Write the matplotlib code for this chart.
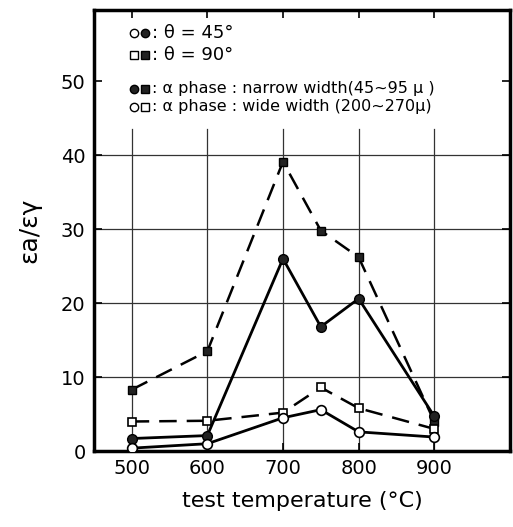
import numpy as np
import matplotlib
matplotlib.use("Agg")
import matplotlib.pyplot as plt

# test temperature (deg C)
temps = [500, 600, 700, 750, 800, 900]

# epsilon_a / epsilon_gamma
narrow_45 = [1.7, 2.1, 26.0, 16.8, 20.6, 4.7]   # filled circles, theta=45
narrow_90 = [8.3, 13.5, 39.1, 29.8, 26.2, 4.0]  # filled squares, theta=90
wide_45 = [0.4, 1.0, 4.5, 5.6, 2.6, 1.9]        # open circles, theta=45
wide_90 = [4.0, 4.1, 5.2, 8.6, 5.8, 3.0]        # open squares, theta=90

xticks = [500, 600, 700, 800, 900]
yticks = [0, 10, 20, 30, 40, 50]

fig = plt.figure(figsize=(5.13, 5.27), dpi=100)
ax = fig.add_axes([0.183, 0.144, 0.811, 0.837])

# grid: horizontal full width, vertical only below legend area
for y in [10, 20, 30, 40]:
    ax.axhline(y, color="#333333", lw=0.9, zorder=0)
for x in xticks:
    ax.plot([x, x], [0, 43.5], color="#333333", lw=0.9, zorder=0)

dash = (0, (7, 4))
ax.plot(temps, narrow_90, color="black", lw=1.8, ls=dash, marker="s", ms=6,
        mfc="#222222", mec="black", zorder=3)
ax.plot(temps, wide_90, color="black", lw=1.8, ls=dash, marker="s", ms=6,
        mfc="white", mec="black", mew=1.2, zorder=3)
ax.plot(temps, narrow_45, color="black", lw=2.0, ls="-", marker="o", ms=7,
        mfc="#222222", mec="black", zorder=4)
ax.plot(temps, wide_45, color="black", lw=2.0, ls="-", marker="o", ms=7,
        mfc="white", mec="black", mew=1.2, zorder=4)

ax.set_xlim(450, 1000)
ax.set_ylim(0, 59.6)
ax.set_xticks(xticks)
ax.set_yticks(yticks)
ax.tick_params(direction="in", length=6, width=1.2, labelsize=14,
               top=True, right=True, pad=6)
for s in ax.spines.values():
    s.set_linewidth(2.5)

ax.set_xlabel("test temperature (°C)", fontsize=16, labelpad=9)
ax.set_ylabel("εa/εγ", fontsize=18, labelpad=14)

# hand drawn key in the upper left corner
tr = ax.transAxes
rows = [
    (0.947, ["o", "o"], ["white", "#222222"], ": θ = 45°", 13),
    (0.897, ["s", "s"], ["white", "#222222"], ": θ = 90°", 13),
    (0.822, ["o", "s"], ["#222222", "#222222"], ": \u03b1 phase : narrow width(45~95 μ )", 11.5),
    (0.781, ["o", "s"], ["white", "white"], ": \u03b1 phase : wide width (200~270μ)", 11.5),
]
for yy, mks, fcs, label, fs in rows:
    ax.plot([0.097], [yy], marker=mks[0], ms=6, mfc=fcs[0], mec="black",
            transform=tr, clip_on=False, ls="none")
    ax.plot([0.124], [yy], marker=mks[1], ms=6, mfc=fcs[1], mec="black",
            transform=tr, clip_on=False, ls="none")
    ax.text(0.14, yy, label, transform=tr, fontsize=fs, va="center", ha="left")

fig.savefig("out.png", dpi=100)
